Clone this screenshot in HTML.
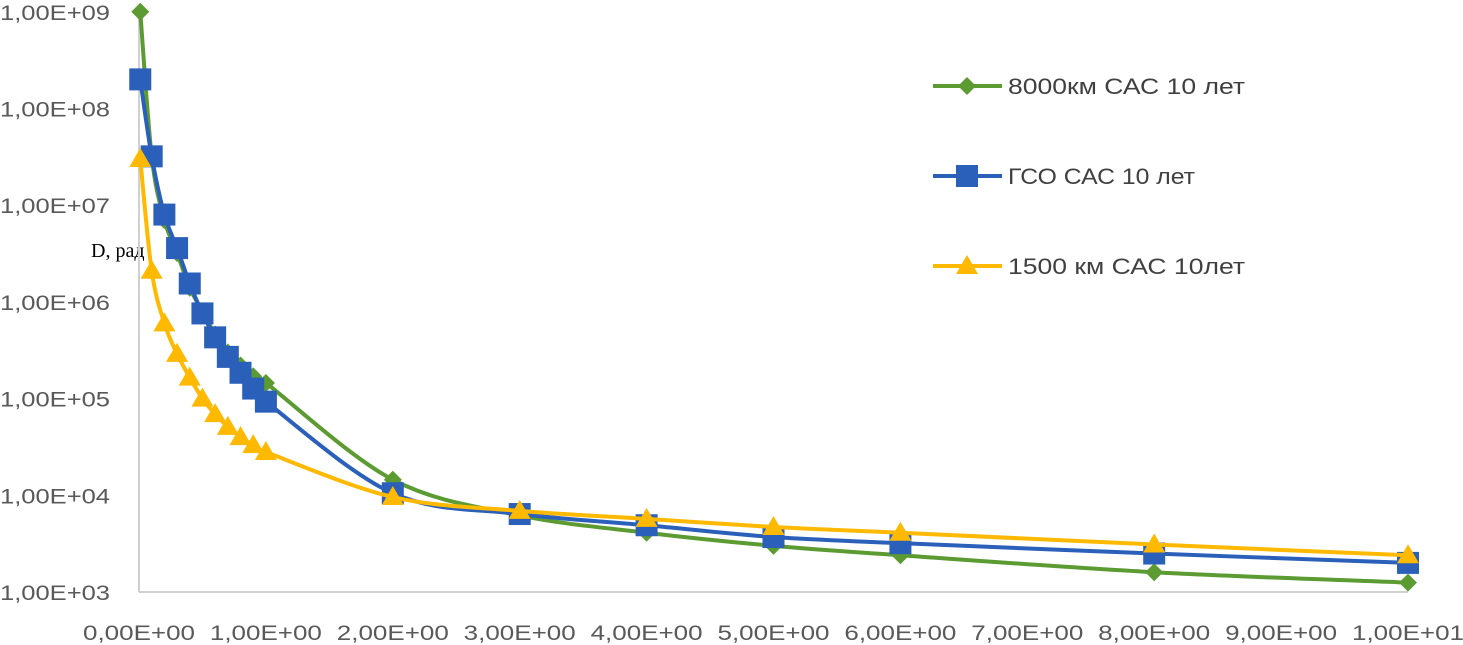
<!DOCTYPE html>
<html><head><meta charset="utf-8"><style>
html,body{margin:0;padding:0;background:#fff;}
svg{display:block;font-family:"Liberation Sans",sans-serif;}
</style></head><body>
<svg id="chart" width="1463" height="645" viewBox="0 0 1463 645">
<text x="91" y="257" font-family="Liberation Serif, serif" font-size="20" fill="#000">D, рад</text>
<g id="axes"></g>
<g id="series"></g>
<g id="legend"></g>
</svg>
<script>
const xValues = [0.01,0.1,0.2,0.3,0.4,0.5,0.6,0.7,0.8,0.9,1,2,3,4,5,6,8,10];
const green8000 = [1e9,3.2e7,7e6,3.2e6,1.4e6,8e5,4.6e5,3e5,2.2e5,1.7e5,1.45e5,1.45e4,6.2e3,4.1e3,3e3,2.4e3,1.6e3,1.25e3];
const blueGSO = [2e8,3.2e7,8e6,3.6e6,1.55e6,7.6e5,4.3e5,2.7e5,1.85e5,1.27e5,9.3e4,1.05e4,6.4e3,4.9e3,3.7e3,3.2e3,2.5e3,2e3];
const yellow1500 = [3e7,2.1e6,6e5,2.9e5,1.65e5,1e5,6.9e4,5.1e4,4e4,3.3e4,2.8e4,9.6e3,6.9e3,5.7e3,4.7e3,4.1e3,3.1e3,2.4e3];
const xTickLabels = ["0,00E+00","1,00E+00","2,00E+00","3,00E+00","4,00E+00","5,00E+00","6,00E+00","7,00E+00","8,00E+00","9,00E+00","1,00E+01"];
const yTickLabels = ["1,00E+03","1,00E+04","1,00E+05","1,00E+06","1,00E+07","1,00E+08","1,00E+09"];
const seriesNames = ["8000км САС 10 лет","ГСО САС 10 лет","1500 км САС 10лет"];

const NS="http://www.w3.org/2000/svg";
const X0=139, XW=126.9, Y0=592, DEC=96.7;
function sx(v){return X0+v*XW;}
function sy(v){return Y0-(Math.log10(v)-3)*DEC;}
function mk(tag,attrs,parent){const e=document.createElementNS(NS,tag);for(const k in attrs)e.setAttribute(k,attrs[k]);parent.appendChild(e);return e;}

const axes=document.getElementById('axes');
const yl=mk('line',{x1:X0,y1:8,x2:X0,y2:Y0,stroke:'#d0d0d0','stroke-width':2},axes);


const xl=mk('line',{x1:X0,y1:Y0,x2:sx(10),y2:Y0,stroke:'#d0d0d0','stroke-width':2},axes);


yTickLabels.forEach((t,i)=>{
  const e=mk('text',{x:0,y:Y0-i*DEC+8,'font-size':21,fill:'#595959',textLength:110,lengthAdjust:'spacingAndGlyphs'},axes);e.textContent=t;
  
  
});
xTickLabels.forEach((t,i)=>{
  const e=mk('text',{x:sx(i)-56,y:640,'font-size':21,fill:'#595959',textLength:112,lengthAdjust:'spacingAndGlyphs'},axes);e.textContent=t;
  
  
});

function smooth(pts){
  let d='M'+pts[0][0]+','+pts[0][1];
  for(let i=0;i<pts.length-1;i++){
    const p0=pts[i-1]||pts[i],p1=pts[i],p2=pts[i+1],p3=pts[i+2]||p2;
    const t=6;
    d+=' C'+(p1[0]+(p2[0]-p0[0])/t)+','+(p1[1]+(p2[1]-p0[1])/t)+' '+(p2[0]-(p3[0]-p1[0])/t)+','+(p2[1]-(p3[1]-p1[1])/t)+' '+p2[0]+','+p2[1];
  }
  return d;
}
function marker(type,x,y,color,parent){
  let e;
  if(type==='diamond') e=mk('polygon',{points:`${x},${y-9} ${x+9},${y} ${x},${y+9} ${x-9},${y}`,fill:color},parent);
  else if(type==='square') e=mk('rect',{x:x-11,y:y-11,width:22,height:22,fill:color},parent);
  else e=mk('polygon',{points:`${x},${y-11} ${x+11},${y+8} ${x-11},${y+8}`,fill:color},parent);
  return e;
}
const series=[[green8000,'#5b9b32','diamond','series-8000km'],[blueGSO,'#2a5fba','square','series-gso'],[yellow1500,'#ffb900','triangle','series-1500km']];
const sg=document.getElementById('series');
series.forEach(([vals,color,type,name])=>{
  const g=mk('g',{},sg);
  
  
  const pts=vals.map((v,i)=>[sx(xValues[i]),sy(v)]);
  const p=mk('path',{d:smooth(pts),fill:'none',stroke:color,'stroke-width':4,'stroke-linejoin':'round'},g);
  
  
  pts.forEach(pt=>{
    const m=marker(type,pt[0],pt[1],color,g);
    
    
  });
});
const lg=document.getElementById('legend');
const ly=[86,176,266];
const lw=[237,187,237];
series.forEach(([vals,color,type,name],i)=>{
  const g=mk('g',{},lg);
  
  
  mk('line',{x1:933,y1:ly[i],x2:1002,y2:ly[i],stroke:color,'stroke-width':4},g);
  marker(type,967,ly[i],color,g);
  const t=mk('text',{x:1008,y:ly[i]+8,'font-size':22,fill:'#404040',textLength:lw[i],lengthAdjust:'spacingAndGlyphs'},g);t.textContent=seriesNames[i];
});
</script>
</body></html>
